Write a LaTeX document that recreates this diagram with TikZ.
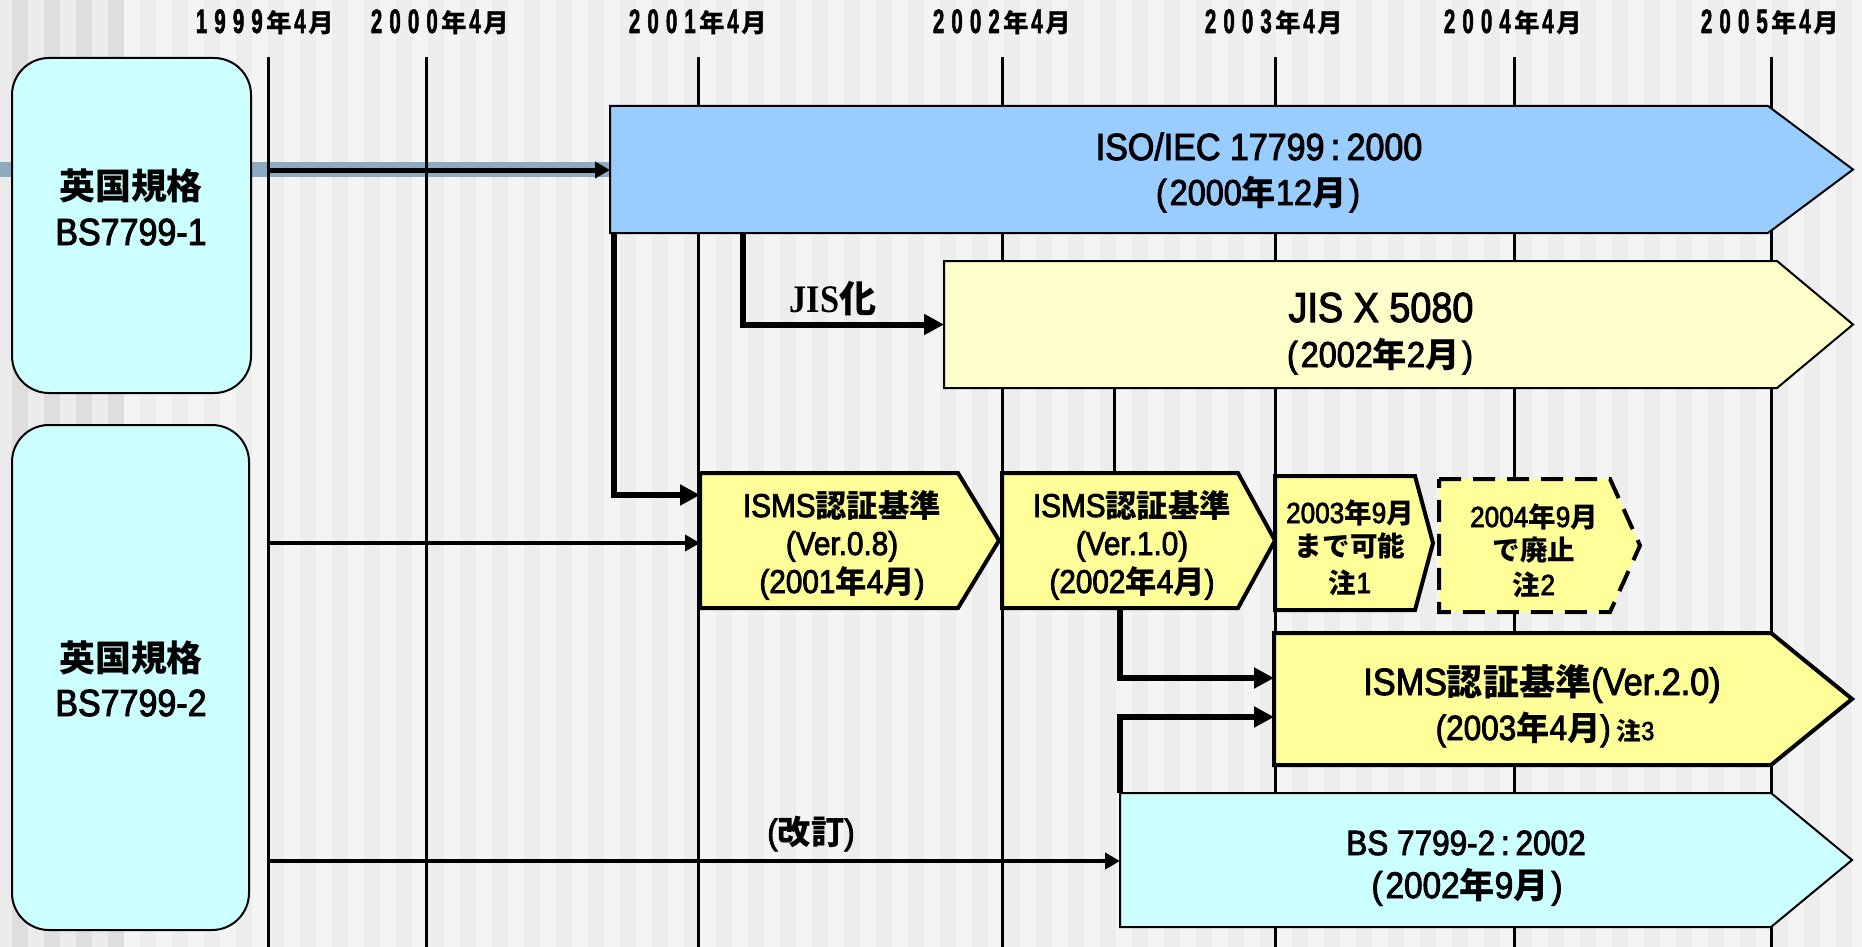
\documentclass[tikz,border=0pt]{standalone}
\usepackage{fontspec}
\setmainfont{Liberation Sans}[FakeStretch=0.9, FakeBold=2.5]
\newfontfamily\jf{Noto Sans CJK JP}[Scale=0.95]
\newfontfamily\yf{Liberation Sans Bold}[FakeStretch=0.6, FakeBold=1.5]
\newfontfamily\serf{Liberation Serif}[FakeStretch=0.88]
\usetikzlibrary{arrows.meta,calc}
\definecolor{isoC}{HTML}{99CCFF}
\definecolor{jisC}{HTML}{FFFFCC}
\definecolor{ismsC}{HTML}{FFFF99}
\definecolor{bsC}{HTML}{CCFFFF}
\definecolor{bandC}{HTML}{8EA9C2}
\definecolor{bgL}{HTML}{F4F4F4}
\definecolor{bgD}{HTML}{EDEDED}
\definecolor{bgLL}{HTML}{EBEBEB}
\definecolor{bgDD}{HTML}{DEDEDE}
\newcommand\J[1]{{\jf\bfseries #1}}
\newcommand\fs[1]{\fontsize{#1}{#1}\selectfont}
\newcommand\yd[1]{\makebox[9.25pt][c]{\yf\fontsize{17}{17}\selectfont #1}}
\newcommand\ylab[4]{\yd{#1}\yd{#2}\yd{#3}\yd{#4}{\fontsize{13.5}{13.5}\selectfont\J{年}}\makebox[8pt][c]{\yf\fontsize{17}{17}\selectfont 4}{\fontsize{13.5}{13.5}\selectfont\J{月}}}
\newcommand\pentbox[3]{\draw[#3] (#1.north west) -- (#1.north east) -- ([xshift=#2]#1.east) -- (#1.south east) -- (#1.south west) -- cycle;}
\tikzset{
  yline/.style={line width=1.5pt},
  rbox/.style={inner sep=0pt, outer sep=0pt, anchor=north west},
  thinb/.style={draw=black, line width=1pt},
  thickb/.style={draw=black, line width=2pt},
  txt/.style={inner sep=0pt, anchor=base},
  tarr/.style={line width=2pt, -{Triangle[length=7.5pt,width=8pt]}},
  karr/.style={line width=3pt, -{Triangle[length=10pt,width=10pt]}},
  conn/.style={line width=1.5pt},
  ylab/.style={txt},
}
\begin{document}
\begin{tikzpicture}[x=0.5pt,y=-0.5pt]
\useasboundingbox (0,0) rectangle (1862,947);
% background stripes
\fill[bgL] (0,0) rectangle (1862,947);
\fill[bgLL] (0,0) rectangle (124,947);
\foreach \i in {1,3,5,7} \fill[bgDD] ({16*\i-4},0) rectangle ({16*\i+12},947);
\foreach \i in {9,11,...,117} \fill[bgD] ({16*\i-4},0) rectangle ({16*\i+12},947);
% anchor rectangles of the boxes
\node[rbox, minimum width=119.5pt, minimum height=167.5pt] (bs1) at (12,58) {};
\node[rbox, minimum width=118.5pt, minimum height=252.5pt] (bs2) at (12,425) {};
\node[rbox, minimum width=579pt, minimum height=63.5pt] (iso) at (610,106) {};
\node[rbox, minimum width=416.5pt, minimum height=63.5pt] (jis) at (944,261) {};
\node[rbox, minimum width=129pt, minimum height=67.5pt] (ver08) at (700,473) {};
\node[rbox, minimum width=118pt, minimum height=67.5pt] (ver10) at (1002,473) {};
\node[rbox, minimum width=70pt, minimum height=67pt] (nt1) at (1275,476) {};
\node[rbox, minimum width=85.5pt, minimum height=66.5pt] (nt2) at (1439,479) {};
\node[rbox, minimum width=248.5pt, minimum height=66pt] (ver20) at (1274,633) {};
\node[rbox, minimum width=325.5pt, minimum height=67pt] (bs02) at (1120,793) {};
% band
\fill[bandC] (0,162) rectangle (610,177);
% year lines
\foreach \x in {268,426,698,1002,1275,1514,1771} \draw[yline] (\x,57) -- (\x,947);
% year labels
\node[ylab] (y1) at (263,33) {\ylab{1}{9}{9}{9}};
\node[ylab] (y2) at (438,33) {\ylab{2}{0}{0}{0}};
\node[ylab] (y3) at (696,33) {\ylab{2}{0}{0}{1}};
\node[ylab] (y4) at (1000,33) {\ylab{2}{0}{0}{2}};
\node[ylab] (y5) at (1272,33) {\ylab{2}{0}{0}{3}};
\node[ylab] (y6) at (1511,33) {\ylab{2}{0}{0}{4}};
\node[ylab] (y7) at (1768,33) {\ylab{2}{0}{0}{5}};
% left boxes
\draw[thinb, fill=bsC, rounded corners=18.5pt] (bs1.north west) rectangle (bs1.south east);
\draw[thinb, fill=bsC, rounded corners=18.5pt] (bs2.north west) rectangle (bs2.south east);
% pentagons
\pentbox{iso}{42.5pt}{thinb, fill=isoC}
\pentbox{jis}{38pt}{thinb, fill=jisC}
\pentbox{ver08}{20.5pt}{thickb, fill=ismsC}
\pentbox{ver10}{18.5pt}{thickb, fill=ismsC}
\pentbox{nt1}{9pt}{thickb, fill=ismsC}
\pentbox{nt2}{15pt}{thickb, fill=ismsC, dash pattern=on 11pt off 6pt}
\pentbox{ver20}{40.5pt}{thickb, fill=ismsC}
\pentbox{bs02}{40.5pt}{thinb, fill=bsC}
% connectors
\coordinate (p1) at (268,170);
\draw[line width=2.5pt, -{Triangle[length=7.5pt,width=8pt]}] (p1) -- (iso.west |- p1);
\coordinate (p2) at (743,324.5);
\draw[karr] (iso.south -| p2) |- (jis.west);
\coordinate (p3) at (614,495);
\draw[karr] (iso.south -| p3) |- (ver08.west |- p3);
\coordinate (p4) at (1114,0);
\draw[conn] (jis.south -| p4) -- (ver10.north -| p4);
\coordinate (p5) at (1120,678);
\draw[karr] (ver10.south -| p5) |- (ver20.west |- p5);
\coordinate (p6) at (1120,717);
\draw[karr] (bs02.north -| p6) |- (ver20.west |- p6);
\coordinate (p7) at (268,543);
\draw[tarr] (p7) -- (ver08.west |- p7);
\coordinate (p8) at (268,861);
\draw[tarr] (p8) -- (bs02.west |- p8);
% texts
\node[txt, font=\fs{18.9}] (bs1a) at (131,199) {\J{英国規格}};
\node[txt, font=\fs{18.9}] (bs1b) at (131,245) {BS7799-1};
\node[txt, font=\fs{18.9}] (bs2a) at (131,671) {\J{英国規格}};
\node[txt, font=\fs{18.9}] (bs2b) at (131,716) {BS7799-2};
\node[txt, font=\fs{18.9}] (isoa) at (1259,160) {ISO/IEC 17799\,:\,2000};
\node[txt, font=\fs{18}] (isob) at (1258,205) {(\kern1.5pt2000\J{年}12\J{月}\kern1.5pt)};
\node[txt, font=\fs{21}] (jisa) at (1381,322) {JIS X 5080};
\node[txt, font=\fs{18}] (jisb) at (1380,367) {(\kern1.5pt2002\J{年}2\J{月}\kern1.5pt)};
\node[txt, font=\serf\bfseries\fs{19.5}] (jisk) at (833,312) {JIS\J{化}};
\node[txt, font=\fs{16.5}] (v08a) at (842,517) {ISMS\J{認証基準}};
\node[txt, font=\fs{16.5}] (v08b) at (842,555) {(Ver.0.8)};
\node[txt, font=\fs{16.5}] (v08c) at (842,593) {(2001\J{年}4\J{月})};
\node[txt, font=\fs{16.5}] (v10a) at (1132,517) {ISMS\J{認証基準}};
\node[txt, font=\fs{16.5}] (v10b) at (1132,555) {(Ver.1.0)};
\node[txt, font=\fs{16.5}] (v10c) at (1132,593) {(2002\J{年}4\J{月})};
\node[txt, font=\fs{14.5}] (n1a) at (1350,523) {2003\J{年}9\J{月}};
\node[txt, font=\fs{14.5}] (n1b) at (1350,556) {\J{まで可能}};
\node[txt, font=\fs{14.5}] (n1c) at (1350,593) {\J{注}1};
\node[txt, font=\fs{14.5}] (n2a) at (1534,527) {2004\J{年}9\J{月}};
\node[txt, font=\fs{14.5}] (n2b) at (1534,560) {\J{で廃止}};
\node[txt, font=\fs{14.5}] (n2c) at (1534,595) {\J{注}2};
\node[txt, font=\fs{19}] (v20a) at (1542,695) {ISMS\J{認証基準}(Ver.2.0)};
\node[txt, font=\fs{17.5}] (v20b) at (1545,740) {(2003\J{年}4\J{月})\,{\fs{13}\J{注}3}};
\node[txt, font=\fs{17.5}] (bsa) at (1466,855) {BS 7799-2\,:\,2002};
\node[txt, font=\fs{18.5}] (bsb) at (1467,898) {(\kern1.5pt2002\J{年}9\J{月}\kern1.5pt)};
\node[txt, font=\fs{17.5}] (kaitei) at (811,844) {(\J{改訂})};
\end{tikzpicture}
\end{document}
